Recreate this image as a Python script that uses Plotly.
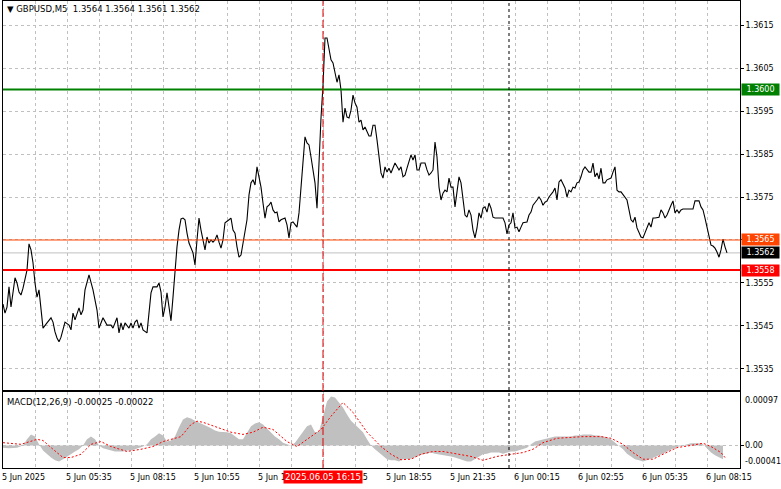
import plotly.graph_objects as go

# ---------------- data ----------------
symbol_title = "\u25bc GBPUSD,M5\u00a0\u00a01.3564 1.3564 1.3561 1.3562"
macd_title = "MACD(12,26,9) -0.00025 -0.00022"

price_bar = [0, 1, 2, 3, 4, 5, 6, 7, 8, 9, 10, 12, 13, 14, 15, 16, 17, 18, 19, 20, 22, 24, 25, 26, 27, 28, 29, 31, 33, 34,
             35, 36, 38, 39, 40, 41, 43, 44, 45, 47, 48, 49, 50, 52, 54, 55, 57, 58, 59, 60, 61, 63, 64, 65, 66, 67, 68, 69, 70, 72,
             73, 74, 75, 77, 78, 79, 80, 81, 82, 83, 84, 85, 86, 87, 88, 89, 90, 91, 92, 93, 95, 96, 97, 98, 99, 100, 101, 102, 103, 104,
             105, 106, 107, 108, 109, 110, 111, 113, 114, 115, 116, 117, 118, 119, 120, 122, 123, 124, 125, 126, 127, 128, 129, 130, 131, 132, 133, 134, 135, 136,
             137, 138, 139, 141, 142, 143, 144, 145, 147, 148, 149, 150, 151, 152, 153, 154, 155, 156, 157, 158, 159, 160, 161, 162, 163, 164, 165, 166, 167, 168,
             169, 170, 171, 172, 173, 174, 175, 176, 177, 178, 179, 180, 181, 183, 184, 185, 186, 187, 188, 189, 190, 191, 192, 193, 194, 195, 196, 198, 199, 200,
             201, 202, 204, 205, 206, 207, 208, 209, 211, 212, 213, 214, 215, 216, 217, 218, 219, 220, 221, 222, 223, 224, 225, 226, 227, 228, 229, 230, 231, 232,
             233, 234, 235, 236, 237, 238, 239, 240, 241, 242, 243, 244, 245, 246, 249, 250, 251, 252, 253, 254, 255, 256, 257, 258, 259, 260, 262, 263, 264, 265,
             267, 268, 269, 270, 271, 272, 273, 275, 276, 277, 278, 279, 281, 282, 283, 284, 285, 286, 287, 288, 289, 290, 291, 293, 294, 295, 296, 297, 298, 299,
             300, 301, 302, 303, 304, 305, 306, 307, 308, 309, 310, 311, 312, 313, 314, 315, 316, 317, 318, 319, 320, 321, 322, 323, 324, 325, 326, 328, 329, 330,
             331, 332, 334, 335, 336, 337, 338, 339, 340, 342, 345, 346, 348, 349, 350, 351, 352, 353, 354, 355, 356, 357, 358, 359, 360, 361, 362]

price_close = [1.35501, 1.35480, 1.35494, 1.35541, 1.35494, 1.35527, 1.35562, 1.35550, 1.35529, 1.35522, 1.35538, 1.35580, 1.35641, 1.35627, 1.35597, 1.35550, 1.35517, 1.35534, 1.35480, 1.35445, 1.35457, 1.35469, 1.35459, 1.35436, 1.35422, 1.35413, 1.35424, 1.35459, 1.35452, 1.35441,
               1.35480, 1.35464, 1.35492, 1.35476, 1.35487, 1.35534, 1.35569, 1.35552, 1.35534, 1.35487, 1.35445, 1.35457, 1.35469, 1.35452, 1.35452, 1.35445, 1.35469, 1.35434, 1.35457, 1.35441, 1.35457, 1.35445, 1.35457, 1.35445, 1.35459, 1.35464, 1.35445, 1.35457, 1.35441, 1.35434,
               1.35480, 1.35527, 1.35541, 1.35541, 1.35550, 1.35529, 1.35471, 1.35494, 1.35527, 1.35487, 1.35462, 1.35517, 1.35580, 1.35634, 1.35673, 1.35699, 1.35701, 1.35697, 1.35666, 1.35643, 1.35620, 1.35592, 1.35650, 1.35701, 1.35673, 1.35650, 1.35627, 1.35657, 1.35643, 1.35650,
               1.35645, 1.35650, 1.35662, 1.35645, 1.35631, 1.35650, 1.35690, 1.35697, 1.35701, 1.35673, 1.35666, 1.35634, 1.35610, 1.35615, 1.35643, 1.35697, 1.35755, 1.35783, 1.35790, 1.35778, 1.35820, 1.35797, 1.35773, 1.35736, 1.35701, 1.35727, 1.35731, 1.35738, 1.35720, 1.35713,
               1.35715, 1.35692, 1.35697, 1.35701, 1.35685, 1.35655, 1.35690, 1.35692, 1.35680, 1.35713, 1.35766, 1.35836, 1.35890, 1.35876, 1.35871, 1.35843, 1.35813, 1.35783, 1.35724, 1.35836, 1.35934, 1.36010, 1.36120, 1.36120, 1.36092, 1.36069, 1.36062, 1.36038, 1.36017, 1.36034,
               1.35999, 1.35924, 1.35957, 1.35936, 1.35934, 1.35952, 1.35987, 1.35969, 1.35959, 1.35924, 1.35929, 1.35906, 1.35913, 1.35892, 1.35892, 1.35917, 1.35917, 1.35883, 1.35836, 1.35806, 1.35794, 1.35820, 1.35808, 1.35817, 1.35806, 1.35820, 1.35829, 1.35813, 1.35820, 1.35797,
               1.35801, 1.35817, 1.35848, 1.35836, 1.35848, 1.35813, 1.35813, 1.35829, 1.35829, 1.35813, 1.35801, 1.35806, 1.35813, 1.35878, 1.35843, 1.35773, 1.35743, 1.35759, 1.35766, 1.35762, 1.35794, 1.35773, 1.35773, 1.35727, 1.35759, 1.35797, 1.35783, 1.35743, 1.35708, 1.35703,
               1.35720, 1.35708, 1.35673, 1.35655, 1.35678, 1.35713, 1.35701, 1.35724, 1.35727, 1.35715, 1.35736, 1.35724, 1.35703, 1.35701, 1.35701, 1.35701, 1.35690, 1.35664, 1.35685, 1.35690, 1.35713, 1.35678, 1.35680, 1.35669, 1.35680, 1.35690, 1.35692, 1.35708, 1.35715, 1.35731,
               1.35743, 1.35750, 1.35743, 1.35731, 1.35738, 1.35741, 1.35750, 1.35762, 1.35771, 1.35743, 1.35785, 1.35790, 1.35771, 1.35750, 1.35766, 1.35762, 1.35773, 1.35771, 1.35783, 1.35785, 1.35797, 1.35813, 1.35820, 1.35808, 1.35808, 1.35829, 1.35797, 1.35806, 1.35792, 1.35817,
               1.35783, 1.35783, 1.35790, 1.35792, 1.35794, 1.35808, 1.35820, 1.35766, 1.35762, 1.35762, 1.35755, 1.35748, 1.35743, 1.35720, 1.35697, 1.35692, 1.35703, 1.35678, 1.35666, 1.35657, 1.35655, 1.35666, 1.35680, 1.35690, 1.35680, 1.35701, 1.35701, 1.35703, 1.35720, 1.35713,
               1.35701, 1.35708, 1.35731, 1.35741, 1.35713, 1.35720, 1.35713, 1.35720, 1.35722, 1.35722, 1.35722, 1.35741, 1.35741, 1.35727, 1.35720, 1.35701, 1.35680, 1.35657, 1.35638, 1.35636, 1.35631, 1.35622, 1.35610, 1.35627, 1.35652, 1.35634, 1.35620]

macd_bar = [0, 3, 7, 10, 12, 14, 16, 18, 20, 22, 24, 26, 28, 30, 32, 34, 36, 38, 40, 42, 44, 46, 48, 50, 52, 54, 56, 58, 60, 62,
            64, 66, 68, 70, 72, 74, 76, 78, 80, 82, 84, 86, 88, 90, 92, 94, 96, 98, 100, 102, 104, 106, 108, 110, 112, 114, 116, 118, 120, 122,
            124, 126, 128, 130, 132, 134, 136, 138, 140, 142, 144, 146, 148, 150, 152, 154, 156, 158, 160, 162, 164, 166, 168, 170, 172, 174, 176, 178, 180, 182,
            184, 186, 188, 190, 192, 194, 196, 198, 200, 204, 208, 210, 212, 214, 216, 218, 220, 222, 224, 226, 228, 230, 232, 234, 236, 238, 240, 242, 244, 246,
            248, 250, 252, 254, 256, 258, 260, 262, 264, 266, 268, 270, 272, 274, 276, 278, 280, 282, 284, 286, 288, 290, 292, 294, 296, 298, 300, 302, 304, 306,
            308, 310, 312, 314, 316, 318, 320, 322, 324, 326, 328, 330, 332, 334, 336, 338, 340, 342, 344, 346, 348, 350, 352, 354, 356, 358, 360]
macd_value = [-0.00004, -0.00005, -0.00004, 0.0, 0.00011, 0.00020, 0.00016, 0.00002, -0.00009, -0.00016, -0.00022, -0.00027, -0.00029, -0.00025, -0.00020, -0.00015, -0.00011, -0.00007, 0.0, 0.00011, 0.00016, 0.00011, 0.0, -0.00005, -0.00007, -0.00009, -0.00011, -0.00011, -0.00011, -0.00009,
              -0.00009, -0.00007, -0.00005, -0.00002, 0.00002, 0.00011, 0.00016, 0.00022, 0.00018, 0.00007, 0.00009, 0.00016, 0.00033, 0.00047, 0.00051, 0.00049, 0.00045, 0.00042, 0.00038, 0.00035, 0.00031, 0.00027, 0.00025, 0.00025, 0.00024, 0.00022, 0.00016, 0.00011, 0.00011, 0.00022,
              0.00035, 0.00040, 0.00042, 0.00038, 0.00031, 0.00024, 0.00016, 0.00011, 0.00005, 0.00002, 0.0, 0.00005, 0.00015, 0.00025, 0.00035, 0.00038, 0.00024, 0.00025, 0.00051, 0.00080, 0.00089, 0.00087, 0.00078, 0.00069, 0.00056, 0.00045, 0.00038, 0.00031, 0.00024, 0.00011,
              0.0, -0.00007, -0.00013, -0.00020, -0.00025, -0.00027, -0.00027, -0.00029, -0.00025, -0.00024, -0.00018, -0.00016, -0.00015, -0.00013, -0.00015, -0.00016, -0.00018, -0.00018, -0.00020, -0.00022, -0.00024, -0.00027, -0.00029, -0.00029, -0.00025, -0.00020, -0.00016, -0.00015, -0.00013, -0.00013,
              -0.00013, -0.00015, -0.00013, -0.00011, -0.00011, -0.00009, -0.00007, -0.00004, 0.00002, 0.00007, 0.00009, 0.00011, 0.00013, 0.00015, 0.00016, 0.00016, 0.00016, 0.00016, 0.00016, 0.00018, 0.00018, 0.00020, 0.00020, 0.00020, 0.00018, 0.00018, 0.00016, 0.00015, 0.00011, 0.00005,
              0.0, -0.00007, -0.00015, -0.00020, -0.00025, -0.00027, -0.00029, -0.00027, -0.00024, -0.00022, -0.00018, -0.00015, -0.00011, -0.00007, -0.00004, -0.00002, 0.0, 0.00002, 0.00004, 0.00004, 0.00004, 0.00002, -0.00005, -0.00013, -0.00018, -0.00022, -0.00025]

signal_bar = [0, 9, 17, 20, 25, 30, 34, 39, 44, 49, 54, 62, 69, 75, 80, 84, 89, 94, 97, 100, 107, 114, 120, 125, 130, 135, 142, 147, 152, 159,
              164, 170, 175, 182, 189, 194, 199, 204, 209, 215, 220, 227, 234, 240, 247, 254, 260, 265, 270, 277, 284, 290, 299, 304, 310, 315, 320, 325, 330, 337,
              344, 350, 354, 359, 361]
signal_value = [0.00005, 0.00002, 0.00011, 0.00009, -0.00007, -0.00022, -0.00022, -0.00016, 0.00002, 0.00007, -0.00002, -0.00011, -0.00007, -0.00002, 0.00007, 0.00011, 0.00016, 0.00038, 0.00044, 0.00042, 0.00033, 0.00024, 0.00020, 0.00024, 0.00033, 0.00029, 0.00007, -0.00002, 0.00011, 0.00029,
                0.00053, 0.00078, 0.00060, 0.00024, -0.00002, -0.00016, -0.00026, -0.00025, -0.00016, -0.00011, -0.00011, -0.00016, -0.00020, -0.00027, -0.00020, -0.00016, -0.00013, -0.00007, 0.00005, 0.00013, 0.00015, 0.00016, 0.00016, 0.00013, 0.00002, -0.00013, -0.00025, -0.00025, -0.00016, -0.00004,
                0.0, 0.00004, -0.00002, -0.00013, -0.00022]

price_ticks = [1.3535, 1.3545, 1.3555, 1.3565, 1.3575, 1.3585, 1.3595, 1.3605, 1.3615]
time_tick_bar = [0, 32, 64, 96, 128, 160, 192, 224, 256, 288, 320, 352]
time_tick_text = ["5 Jun 2025", "5 Jun 05:35", "5 Jun 08:15", "5 Jun 10:55", "5 Jun 13:35", "5 Jun 16:15",
                  "5 Jun 18:55", "5 Jun 21:35", "6 Jun 00:15", "6 Jun 02:55", "6 Jun 05:35", "6 Jun 08:15"]
cursor_bar = 160
cursor_text = "2025.06.05 16:15"
day_separator_bar = 253

level_values = [1.3600, 1.3565, 1.3562, 1.3558]
level_text = ["1.3600", "1.3565", "1.3562", "1.3558"]
level_colors = ["#008000", "#FF4500", "#C0C0C0", "#FF0000"]
level_box_colors = ["#008000", "#FF4500", "#000000", "#FF0000"]
level_widths = [2, 1, 1, 2]

macd_labels = [0.00097, 0.0, -0.00041]
macd_label_text = ["0.00097", "0.00", "-0.00041"]

# ---------------- figure ----------------
FONT = "DejaVu Sans"
GRID = "#c0c0c0"
X_RANGE = [0, 368.5]

fig = go.Figure()

fig.add_trace(go.Scatter(x=macd_bar, y=macd_value, mode="lines", fill="tozeroy",
                         fillcolor="#c0c0c0", line=dict(width=0, color="#c0c0c0"),
                         xaxis="x2", yaxis="y2", hoverinfo="skip"))
fig.add_trace(go.Scatter(x=signal_bar, y=signal_value, mode="lines",
                         line=dict(color="#ff0000", width=1, dash="2px,2px"),
                         xaxis="x2", yaxis="y2", hoverinfo="skip"))
fig.add_trace(go.Scatter(x=price_bar, y=price_close, mode="lines",
                         line=dict(color="#000000", width=1.1),
                         xaxis="x", yaxis="y", hoverinfo="skip"))

shapes = []
for v, c, w in zip(level_values, level_colors, level_widths):
    shapes.append(dict(type="line", xref="x domain", yref="y", x0=0, x1=1, y0=v, y1=v,
                       line=dict(color=c, width=w), layer="below" if c == "#C0C0C0" else "above"))
# day separator
shapes.append(dict(type="line", xref="x", yref="paper", x0=day_separator_bar, x1=day_separator_bar,
                   y0=0, y1=1, line=dict(color="#000000", width=1, dash="3px,3px")))
# cursor line
shapes.append(dict(type="line", xref="x", yref="paper", x0=cursor_bar, x1=cursor_bar,
                   y0=0, y1=1, line=dict(color="#e00000", width=1, dash="8px,3px")))

annotations = []
annotations.append(dict(text=symbol_title, xref="paper", yref="paper", x=0, y=1, xanchor="left", yanchor="top",
                        xshift=2, yshift=-1, showarrow=False, font=dict(family=FONT, size=8.5, color="#000000")))
annotations.append(dict(text=macd_title, xref="paper", yref="y2 domain", x=0, y=1, xanchor="left", yanchor="top",
                        xshift=2, yshift=-3, showarrow=False, font=dict(family=FONT, size=8.5, color="#000000")))
for b, t in zip(time_tick_bar, time_tick_text):
    annotations.append(dict(text=t, xref="x2", yref="paper", x=b, y=0, xanchor="left", yanchor="top",
                            xshift=-3, yshift=-3, showarrow=False, font=dict(family=FONT, size=8, color="#000000")))
annotations.append(dict(text=cursor_text, xref="x2", yref="paper", x=cursor_bar, y=0, xanchor="center", yanchor="top",
                        yshift=-2, showarrow=False, bgcolor="#ff0000", borderpad=1,
                        font=dict(family=FONT, size=8.5, color="#ffffff")))
for v, t, bc in zip(level_values, level_text, level_box_colors):
    annotations.append(dict(text=t, xref="paper", yref="y", x=1, y=v, xanchor="left", yanchor="middle",
                            xshift=1, showarrow=False, bgcolor=bc, borderpad=0, width=37, height=11, align="center",
                            font=dict(family=FONT, size=8, color="#ffffff")))
macd_label_shift = [-8, 0, 6]
for v, t, s in zip(macd_labels, macd_label_text, macd_label_shift):
    annotations.append(dict(text=t, xref="paper", yref="y2", x=1, y=v, xanchor="left", yanchor="middle",
                            xshift=3, yshift=s, showarrow=False, font=dict(family=FONT, size=8, color="#000000")))

axis_common = dict(showline=True, linecolor="#000000", linewidth=1, mirror=True, zeroline=False)

fig.update_layout(
    width=781, height=489,
    margin=dict(l=3, r=41, t=1, b=21),
    paper_bgcolor="#ffffff", plot_bgcolor="#ffffff",
    showlegend=False,
    hovermode=False,
    xaxis=dict(domain=[0, 1], anchor="y", range=X_RANGE, tickvals=list(range(16, 369, 16)),
               showticklabels=False, ticks="", showgrid=True, gridcolor=GRID, griddash="3px,3px", gridwidth=1,
               **axis_common),
    yaxis=dict(domain=[0.1670, 1], anchor="x", side="right", range=[1.35301, 1.36206],
               tickvals=price_ticks, ticktext=["" if abs(v - 1.3565) < 1e-9 else f"{v:.4f}" for v in price_ticks],
               ticks="outside", ticklen=3, tickcolor="#000000",
               tickfont=dict(family=FONT, size=8, color="#000000"),
               showgrid=True, gridcolor=GRID, griddash="3px,3px", gridwidth=1, **axis_common),
    xaxis2=dict(domain=[0, 1], anchor="y2", range=X_RANGE, tickvals=list(range(16, 369, 16)),
                showticklabels=False, ticks="", showgrid=True, gridcolor=GRID, griddash="3px,3px", gridwidth=1,
                **axis_common),
    yaxis2=dict(domain=[0, 0.1627], anchor="x2", side="right", range=[-0.00041, 0.00097],
                tickvals=[0.0], showticklabels=False, ticks="outside", ticklen=3, tickcolor="#000000",
                showgrid=True, gridcolor=GRID, griddash="3px,3px", gridwidth=1, **axis_common),
    shapes=shapes,
    annotations=annotations,
)

fig.write_html("out.html", config={"staticPlot": True},
               post_script="document.body.style.margin='0';document.body.style.overflow='hidden';")
